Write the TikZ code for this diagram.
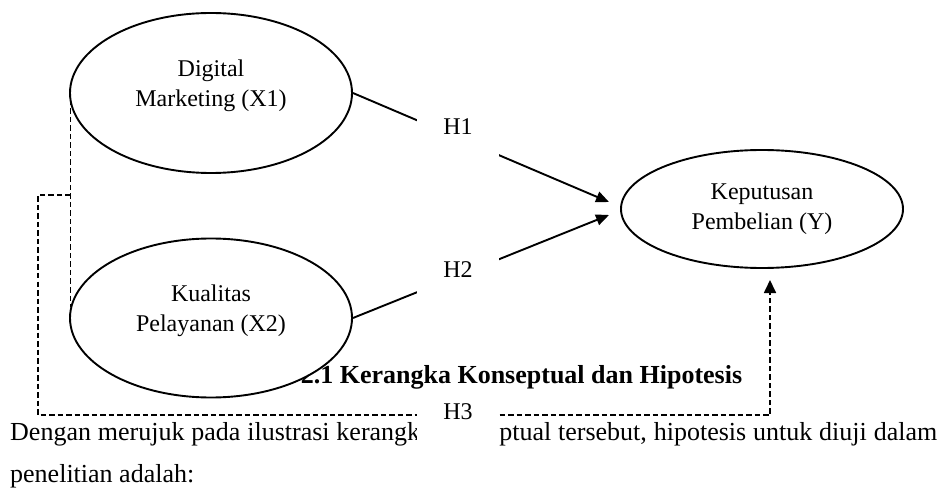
\documentclass[tikz,border=0pt]{standalone}
\usepackage{fontspec}
\setmainfont{Liberation Serif}
\usetikzlibrary{shapes.geometric,arrows.meta}

\begin{document}
\begin{tikzpicture}[x=1pt, y=-1pt,
    varshape/.style={draw, ellipse, line width=1.9pt, fill=white},
    vartext/.style={align=center, inner sep=0pt, font=\fontsize{24}{30}\selectfont},
    hypbox/.style={fill=white, inner sep=0pt, minimum width=82pt, text height=20pt, text depth=30pt, anchor=base, font=\fontsize{24}{30}\selectfont},
    bodytext/.style={inner sep=0pt, anchor=base west, font=\fontsize{26}{42}\selectfont},
    arrowline/.style={line width=1.9pt, -{Triangle[length=13pt,width=11pt]}},
    dashline/.style={line width=1.7pt, dash pattern=on 5.5pt off 3pt}]

  \useasboundingbox (0,0) rectangle (940,489);

	%caption and text
 \node[bodytext, anchor=base, font=\fontsize{26}{42}\selectfont\bfseries] (cap) at (521.5,383) {2.1 Kerangka Konseptual dan Hipotesis};
 \node[bodytext] (para1) at (10,440) {\makebox[927pt][s]{Dengan merujuk pada ilustrasi kerangka konseptual tersebut, hipotesis untuk diuji dalam}};
 \node[bodytext] (para2) at (10,482) {penelitian adalah:};

	%variables
    \foreach \name/\cx/\cy/\w/\h/\dy/\txt in {X1/211/93/282/160/7/{Digital\\Marketing (X1)}, X2/211/318/282/159/7/{Kualitas\\Pelayanan (X2)}, Y/762/209/282/118/0/{Keputusan\\Pembelian (Y)}}{
           \node[varshape, minimum width=\w, minimum height=\h] (\name) at (\cx,\cy) {};
           \node[vartext] (\name txt) at ([yshift=\dy]\name.center) {\txt};
    }

 \coordinate (y1) at (609,202);
 \coordinate (y2) at (609,215);
 \coordinate (y3) at (770,280);

	%paths
 \draw[arrowline] (X1.east) -- (y1);
 \draw[arrowline] (X2.east) -- (y2);

 \coordinate (d1) at (70.5,100);
 \coordinate (d2) at (70.5,307);
 \coordinate (d3) at (70.5,195);
 \coordinate (bl) at (38,415);
 \draw[dashline] (d1) -- (d2);
 \draw[dashline, -{Triangle[length=13pt,width=12pt]}] (d3) -| (bl) -| (y3);

	%hypotheses
    \foreach \name/\hx/\hy in {H1/458/135, H2/458/277, H3/458/419}{
         \node[hypbox] (\name) at (\hx,\hy) {\name};
    }

\end{tikzpicture}
\end{document}
